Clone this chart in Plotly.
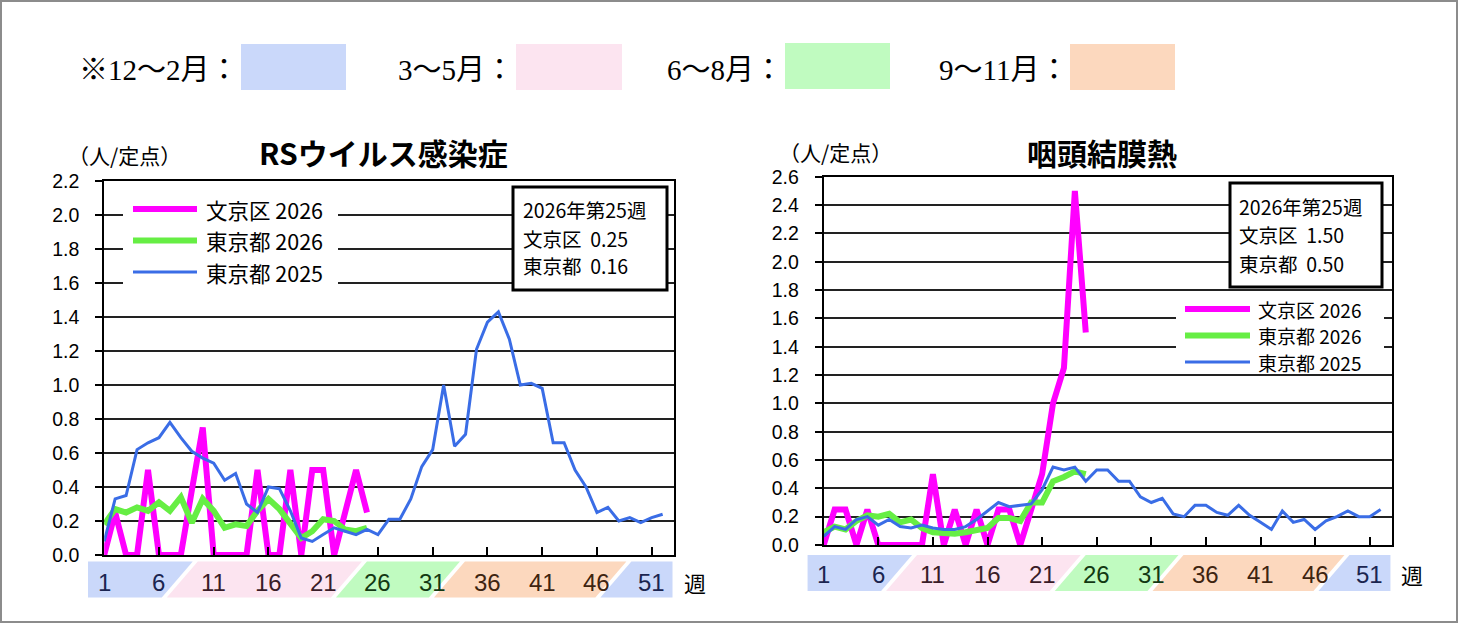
import plotly.graph_objects as go

# ---------------- data ----------------
weeks_2025 = list(range(1, 53))
weeks_2026 = list(range(1, 26))

series_names = ["文京区 2026", "東京都 2026", "東京都 2025"]
series_colors = ["#FF00FF", "#66EE44", "#3A6DE6"]
series_widths = [6, 6, 3]

# RSウイルス感染症
rs_bunkyo_2026 = [0, 0.25, 0, 0, 0.5, 0, 0, 0, 0.38, 0.75, 0, 0, 0, 0, 0.5, 0, 0, 0.5, 0, 0.5,
                  0.5, 0, 0.25, 0.5, 0.25]
rs_tokyo_2026 = [0.18, 0.27, 0.25, 0.28, 0.26, 0.31, 0.26, 0.34, 0.19, 0.33, 0.26, 0.16, 0.18, 0.17,
                 0.26, 0.33, 0.27, 0.19, 0.10, 0.14, 0.21, 0.20, 0.15, 0.14, 0.16]
rs_tokyo_2025 = [0.08, 0.33, 0.35, 0.62, 0.66, 0.69, 0.78, 0.69, 0.61, 0.57,
                 0.54, 0.44, 0.48, 0.30, 0.25, 0.40, 0.39, 0.26, 0.10, 0.08,
                 0.12, 0.16, 0.14, 0.12, 0.15, 0.12, 0.21, 0.21, 0.33, 0.52,
                 0.62, 1.00, 0.64, 0.71, 1.21, 1.37, 1.43, 1.27, 1.00, 1.01,
                 0.98, 0.66, 0.66, 0.50, 0.40, 0.25, 0.28, 0.20, 0.22, 0.19,
                 0.22, 0.24]

# 咽頭結膜熱
pcf_bunkyo_2026 = [0, 0.25, 0.25, 0, 0.25, 0, 0, 0, 0, 0, 0.5, 0, 0.25, 0, 0.25, 0, 0.25, 0.25, 0,
                   0.25, 0.5, 1.0, 1.25, 2.5, 1.5]
pcf_tokyo_2026 = [0.09, 0.13, 0.11, 0.17, 0.21, 0.20, 0.22, 0.16, 0.18, 0.12, 0.09, 0.08, 0.08, 0.09,
                  0.11, 0.12, 0.19, 0.19, 0.17, 0.30, 0.30, 0.45, 0.48, 0.52, 0.50]
pcf_tokyo_2025 = [0.06, 0.13, 0.11, 0.18, 0.20, 0.14, 0.18, 0.13, 0.12, 0.14,
                  0.12, 0.11, 0.11, 0.13, 0.18, 0.24, 0.30, 0.27, 0.28, 0.29,
                  0.39, 0.55, 0.53, 0.55, 0.45, 0.53, 0.53, 0.45, 0.45, 0.34,
                  0.30, 0.33, 0.22, 0.20, 0.28, 0.28, 0.23, 0.21, 0.28, 0.21,
                  0.16, 0.11, 0.24, 0.16, 0.18, 0.11, 0.17, 0.20, 0.24, 0.20,
                  0.20, 0.25]

chart_titles = ["RSウイルス感染症", "咽頭結膜熱"]
unit_label = "（人/定点）"
week_ticks = [1, 6, 11, 16, 21, 26, 31, 36, 41, 46, 51]
week_tick_season = [0, 0, 1, 1, 1, 2, 2, 3, 3, 3, 4]
stat_title = "2026年第25週"

season_labels = ["※12～2月：", "3～5月：", "6～8月：", "9～11月："]
season_colors = ["#CAD8FA", "#FCE4F0", "#C0FBC0", "#FCD8BE"]
season_text_colors = ["#1B2550", "#3A1C28", "#123812", "#3E2410"]
# season band boundaries (in week units, at mid height) and segment colour index
band_bounds = [-0.48, 7.9, 23.35, 32.3, 47.5, 52.9]
band_color_idx = [0, 1, 2, 3, 0]

# ---------------- layout helpers ----------------
W, H = 1458, 623


def px(x):
    return x / W


def py(y):
    return 1 - y / H


charts = [
    dict(x0=104.2, pw=10.95, ytop=181, ybot=555, ymax=2.2, xa="x", ya="y",
         data=[rs_bunkyo_2026, rs_tokyo_2026, rs_tokyo_2025],
         title_xy=(383, 152), unit_xy=(124, 155),
         band_y=(561.5, 597.5), week_label_y=582, shu_x=695,
         stat_box=(513, 187, 667, 290), stat_text_x=522, stat_ys=(209, 238, 266),
         leg_box=(123, 192, 338, 290), leg_line=(133, 197), leg_text_x=205,
         leg_ys=(209, 240.5, 272), leg_font=21.5),
    dict(x0=823.7, pw=10.92, ytop=176.7, ybot=545, ymax=2.6, xa="x2", ya="y2",
         data=[pcf_bunkyo_2026, pcf_tokyo_2026, pcf_tokyo_2025],
         title_xy=(1102, 152), unit_xy=(835, 152),
         band_y=(555, 591), week_label_y=574, shu_x=1412,
         stat_box=(1230, 183, 1382, 287), stat_text_x=1238, stat_ys=(206, 235, 263),
         leg_box=(1176, 293, 1384, 374), leg_line=(1185, 1250), leg_text_x=1257,
         leg_ys=(309, 335.5, 362), leg_font=19),
]

fig = go.Figure()
shapes = []
annotations = []

CJK = "Noto Sans CJK JP, Noto Sans, sans-serif"
NARROW = "Liberation Sans Narrow, Liberation Sans, Noto Sans CJK JP, sans-serif"
SERIF = "Liberation Serif, Noto Sans CJK JP, serif"

for ci, c in enumerate(charts):
    xs = [weeks_2026, weeks_2026, weeks_2025]
    for si in range(3):
        fig.add_trace(go.Scatter(
            x=xs[si], y=c["data"][si], mode="lines", name=series_names[si],
            line=dict(color=series_colors[si], width=series_widths[si]),
            xaxis=c["xa"], yaxis=c["ya"], showlegend=False))

    sfx = "" if ci == 0 else "2"
    x_end = c["x0"] + 52 * c["pw"]
    fig.update_layout(**{
        "xaxis" + sfx: dict(domain=[px(c["x0"]), px(x_end)], range=[1, 53],
                            anchor=c["ya"], showline=True, mirror=True, linecolor="black",
                            linewidth=2, ticks="inside", tickvals=week_ticks, ticklen=8,
                            tickcolor="black", tickwidth=1.5, showticklabels=False,
                            showgrid=False, zeroline=False, fixedrange=True, automargin=False),
        "yaxis" + sfx: dict(domain=[py(c["ybot"]), py(c["ytop"])], range=[0, c["ymax"]],
                            anchor=c["xa"], dtick=0.2, tick0=0, tickformat=".1f",
                            showline=True, mirror=True, linecolor="black", linewidth=2,
                            showgrid=True, gridcolor="#222222", gridwidth=1.5,
                            ticks="outside", ticklen=7, tickcolor="black", tickwidth=1.5,
                            ticklabelstandoff=12, zeroline=False, automargin=False,
                            tickfont=dict(family=NARROW, size=19.5, color="black"),
                            fixedrange=True),
    })

    def wx(w, c=c):
        return c["x0"] + (w - 1) * c["pw"]

    # season band
    yt, yb = c["band_y"]
    slant, gap = 15.5, 2.5
    for k in range(len(band_bounds) - 1):
        lft, rgt = wx(band_bounds[k]), wx(band_bounds[k + 1])
        if k == 0:
            tl, bl = lft, lft
        else:
            tl, bl = lft + slant + gap, lft - slant + gap
        if k == len(band_bounds) - 2:
            tr, br = rgt, rgt
        else:
            tr, br = rgt + slant - gap, rgt - slant - gap
        path = (f"M{px(tl)},{py(yt)} L{px(tr)},{py(yt)} L{px(br)},{py(yb)} "
                f"L{px(bl)},{py(yb)} Z")
        shapes.append(dict(type="path", xref="paper", yref="paper", path=path,
                           fillcolor=season_colors[band_color_idx[k]], line=dict(width=0),
                           layer="below"))
    for w, s in zip(week_ticks, week_tick_season):
        annotations.append(dict(x=w, y=py(c["week_label_y"]), xref=c["xa"], yref="paper",
                                text=str(w), showarrow=False, xanchor="center", yanchor="middle",
                                font=dict(family=NARROW, size=24,
                                          color=season_text_colors[band_color_idx[s]])))
    annotations.append(dict(x=px(c["shu_x"]), y=py(c["week_label_y"]), xref="paper", yref="paper",
                            text="週", showarrow=False, xanchor="center", yanchor="middle",
                            font=dict(family=CJK, size=22, color="black")))

    # titles
    annotations.append(dict(x=px(c["title_xy"][0]), y=py(c["title_xy"][1]), xref="paper",
                            yref="paper", text="<b>" + chart_titles[ci] + "</b>", showarrow=False,
                            xanchor="center", yanchor="middle",
                            font=dict(family=CJK, size=30, color="black")))
    annotations.append(dict(x=px(c["unit_xy"][0]), y=py(c["unit_xy"][1]), xref="paper",
                            yref="paper", text=unit_label, showarrow=False,
                            xanchor="center", yanchor="middle",
                            font=dict(family=CJK, size=21, color="black")))

    # stat box
    bx0, by0, bx1, by1 = c["stat_box"]
    shapes.append(dict(type="rect", xref="paper", yref="paper", x0=px(bx0), x1=px(bx1),
                       y0=py(by1), y1=py(by0), fillcolor="white",
                       line=dict(color="black", width=3), layer="above"))
    stat_lines = [stat_title,
                  f"文京区  {c['data'][0][-1]:.2f}",
                  f"東京都  {c['data'][1][-1]:.2f}"]
    for t, yy in zip(stat_lines, c["stat_ys"]):
        annotations.append(dict(x=px(c["stat_text_x"]), y=py(yy), xref="paper", yref="paper",
                                text=t, showarrow=False, xanchor="left", yanchor="middle",
                                borderpad=0, font=dict(family=CJK, size=19.5, color="black")))

    # legend (white panel, sample lines, labels)
    lx0, ly0, lx1, ly1 = c["leg_box"]
    shapes.append(dict(type="rect", xref="paper", yref="paper", x0=px(lx0), x1=px(lx1),
                       y0=py(ly1), y1=py(ly0), fillcolor="white", line=dict(width=0),
                       layer="above"))
    for si in range(3):
        yy = c["leg_ys"][si]
        shapes.append(dict(type="line", xref="paper", yref="paper",
                           x0=px(c["leg_line"][0]), x1=px(c["leg_line"][1]), y0=py(yy), y1=py(yy),
                           line=dict(color=series_colors[si], width=series_widths[si]),
                           layer="above"))
        annotations.append(dict(x=px(c["leg_text_x"]), y=py(yy), xref="paper", yref="paper",
                                text=series_names[si], showarrow=False, xanchor="left",
                                yanchor="middle", borderpad=0,
                                font=dict(family=CJK, size=c["leg_font"], color="black")))

# top season key
key_text_right = [241, 516, 785, 1070]
key_boxes = [(241, 44, 346, 90), (516, 44, 622, 90), (785, 43, 890, 89), (1070, 44, 1175, 90)]
for i in range(4):
    annotations.append(dict(x=px(key_text_right[i]), y=py(70), xref="paper", yref="paper",
                            text=season_labels[i], showarrow=False, xanchor="right",
                            yanchor="middle", font=dict(family=SERIF, size=29, color="black")))
    x0, y0, x1, y1 = key_boxes[i]
    shapes.append(dict(type="rect", xref="paper", yref="paper", x0=px(x0), x1=px(x1),
                       y0=py(y1), y1=py(y0), fillcolor=season_colors[i], line=dict(width=0),
                       layer="below"))

# outer border
shapes.append(dict(type="rect", xref="paper", yref="paper", x0=px(1), x1=px(1457),
                   y0=py(622), y1=py(1), line=dict(color="#8C8C8C", width=2),
                   fillcolor="rgba(0,0,0,0)", layer="above"))

fig.update_layout(template="none", width=W, height=H,
                  margin=dict(l=0, r=0, t=0, b=0, pad=0, autoexpand=False),
                  paper_bgcolor="white", plot_bgcolor="white", showlegend=False,
                  font=dict(family=CJK, color="black"),
                  shapes=shapes, annotations=annotations)

fig.write_html("out.html", config={"responsive": False},
               post_script="document.body.style.margin='0';document.body.style.padding='0';")
